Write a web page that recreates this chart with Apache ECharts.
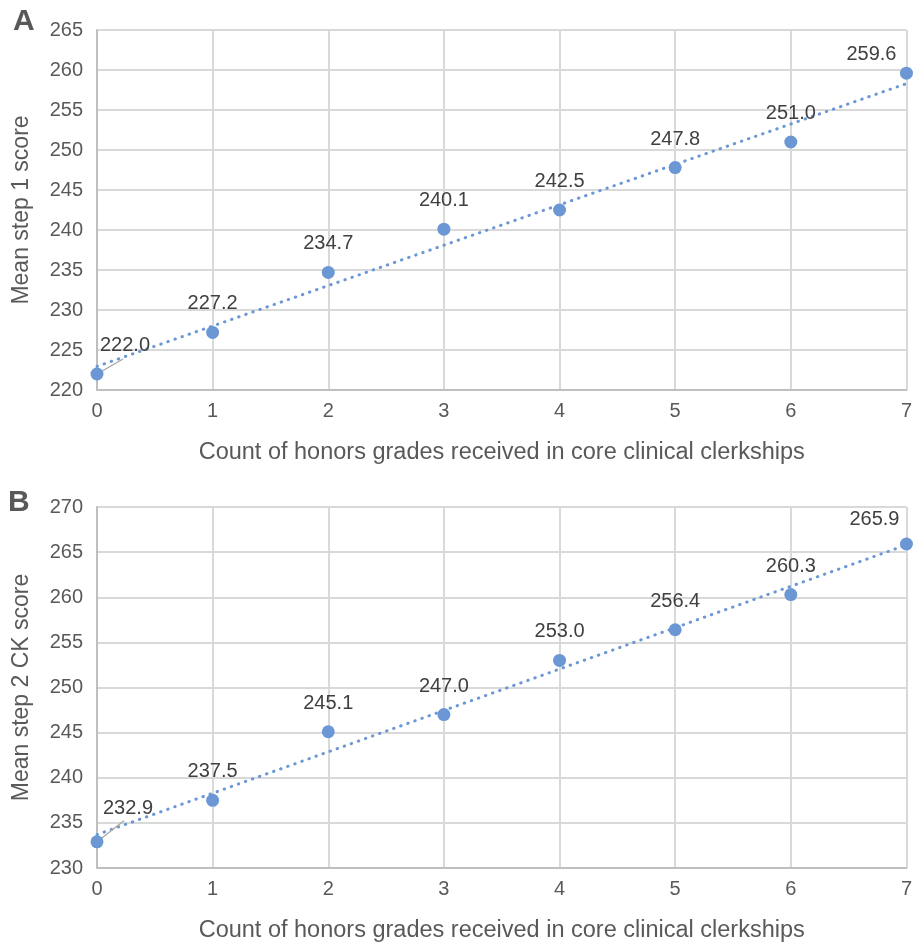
<!DOCTYPE html>
<html><head><meta charset="utf-8">
<script src="https://cdn.jsdelivr.net/npm/echarts@6/dist/echarts.min.js"></script>
<style>html,body{margin:0;padding:0;background:#fff}#c{width:915px;height:944px}</style>
</head><body><div id="c"></div>
<script>
const honors = [0, 1, 2, 3, 4, 5, 6, 7];
const step1Scores = [222.0, 227.2, 234.7, 240.1, 242.5, 247.8, 251.0, 259.6];
const step2Scores = [232.9, 237.5, 245.1, 247.0, 253.0, 256.4, 260.3, 265.9];
// linear trendline end values
const trendStep1 = [[0, 222.95], [7, 258.3]];
const trendStep2 = [[0, 233.7], [7, 265.8]];
const xTitle = 'Count of honors grades received in core clinical clerkships';

const FONT = '"Liberation Sans", Arial, sans-serif';
const BLUE = '#6b97d4';
const chart = echarts.init(document.getElementById('c'));

function pts(vals) {
  return honors.map((x, i) => ({ value: [x, vals[i]] }));
}

function xAxis(idx) {
  return {
    gridIndex: idx, type: 'value', min: 0, max: 7, interval: 1,
    name: xTitle, nameLocation: 'middle', nameGap: 51,
    nameTextStyle: { fontFamily: FONT, fontSize: 23.5, color: '#595959' },
    axisLine: { show: true, lineStyle: { color: '#bfbfbf', width: 2 } },
    axisTick: { show: false },
    axisLabel: { fontFamily: FONT, fontSize: 20, color: '#595959', margin: 11 },
    splitLine: { show: true, lineStyle: { color: '#d9d9d9', width: 2 } }
  };
}
function yAxis(idx, min, max, name) {
  return {
    gridIndex: idx, type: 'value', min: min, max: max, interval: 5,
    name: name, nameLocation: 'middle', nameGap: 64,
    nameTextStyle: { fontFamily: FONT, fontSize: 23, color: '#595959' },
    axisLine: { show: true, lineStyle: { color: '#bfbfbf', width: 2 } },
    axisTick: { show: false },
    axisLabel: { fontFamily: FONT, fontSize: 20, color: '#595959', margin: 14 },
    splitLine: { show: true, lineStyle: { color: '#d9d9d9', width: 2 } }
  };
}
function trend(idx, data) {
  return {
    type: 'line', xAxisIndex: idx, yAxisIndex: idx, data: data,
    showSymbol: false, silent: true, z: 2,
    lineStyle: { color: BLUE, width: 3, type: [0.5, 7], cap: 'round' }
  };
}
function scat(idx, vals, offs) {
  return {
    type: 'scatter', xAxisIndex: idx, yAxisIndex: idx, data: pts(vals),
    symbolSize: 13, z: 4,
    itemStyle: { color: BLUE, opacity: 1 },
    label: {
      show: true, position: 'top', distance: 12,
      fontFamily: FONT, fontSize: 20, color: '#404040',
      formatter: p => p.value[1].toFixed(1)
    },
    labelLayout: function (p) {
      if (p.dataIndex === 0) return { dx: offs[0], dy: offs[1] };
      if (p.dataIndex === 7) return { dx: offs[2], dy: offs[3] };
      return {};
    }
  };
}

chart.setOption({
  animation: false,
  grid: [
    { left: 97, right: 7, top: 30, height: 360 },
    { left: 97, right: 7, top: 507, height: 361 }
  ],
  xAxis: [xAxis(0), xAxis(1)],
  yAxis: [yAxis(0, 220, 265, 'Mean step 1 score'), yAxis(1, 230, 270, 'Mean step 2 CK score')],
  series: [
    trend(0, trendStep1), scat(0, step1Scores, [28, 0, -35, 10]),
    trend(1, trendStep2), scat(1, step2Scores, [31, -5, -32, 4])
  ]
});

// leader lines from the first point of each panel toward its moved label
function leader(idx, val, dx, dy) {
  const p = chart.convertToPixel({ gridIndex: idx }, [honors[0], val]);
  return { type: 'line', z: 3, shape: { x1: p[0], y1: p[1], x2: p[0] + dx, y2: p[1] + dy },
           style: { stroke: '#a6a6a6', lineWidth: 1.3 } };
}
chart.setOption({
  graphic: [
    { type: 'text', left: 13, top: 7, style: { text: 'A', font: 'bold 30px ' + FONT, fill: '#595959' } },
    { type: 'text', left: 8, top: 488, style: { text: 'B', font: 'bold 30px ' + FONT, fill: '#595959' } },
    leader(0, step1Scores[0], 26, -15),
    leader(1, step2Scores[0], 27, -21)
  ]
});
</script></body></html>
